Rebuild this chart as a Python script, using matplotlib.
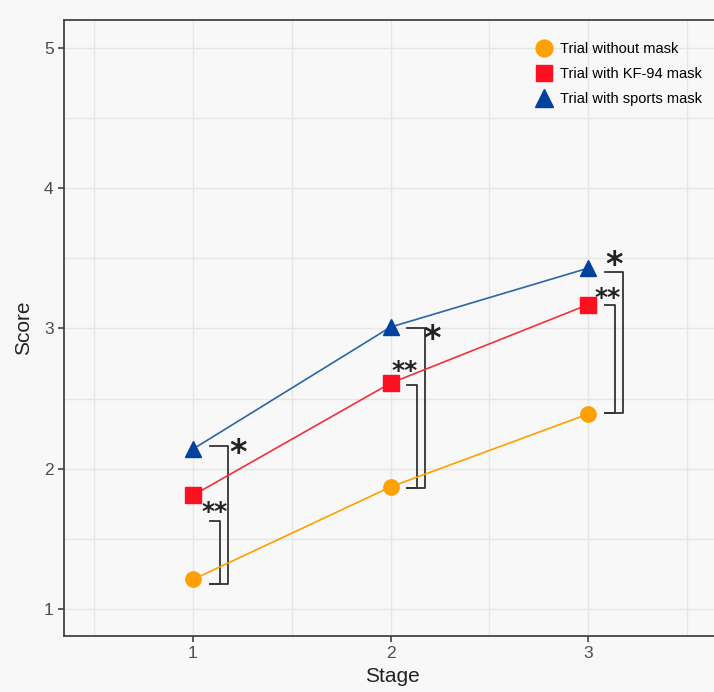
import matplotlib
matplotlib.use("Agg")
import matplotlib.pyplot as plt
from matplotlib.ticker import MultipleLocator

plt.rcParams['font.family'] = ['Liberation Sans', 'DejaVu Sans']

stages = [1, 2, 3]
no_mask = [1.21, 1.87, 2.39]
kf94_mask = [1.81, 2.61, 3.17]
sports_mask = [2.14, 3.01, 3.43]
series_labels = ["Trial without mask", "Trial with KF-94 mask", "Trial with sports mask"]

# significance brackets: (stage, top value, bottom value, label)
outer_brackets = [(1, 2.16, 1.18, "*"), (2, 3.00, 1.86, "*"), (3, 3.40, 2.40, "*")]
inner_brackets = [(1, 1.63, 1.18, "**"), (2, 2.60, 1.86, "**"), (3, 3.17, 2.40, "**")]

fig = plt.figure(figsize=(7.14, 6.92), dpi=100, facecolor='#f8f8f8')
ax = fig.add_axes([64/714, 56/692, (720-64)/714, 616/692])
ax.set_facecolor('#f8f8f8')

ax.set_xlim(0.347, 3.668)
ax.set_ylim(0.807, 5.2)
ax.xaxis.set_major_locator(MultipleLocator(1))
ax.xaxis.set_minor_locator(MultipleLocator(0.5))
ax.yaxis.set_major_locator(MultipleLocator(1))
ax.yaxis.set_minor_locator(MultipleLocator(0.5))
ax.grid(which='both', color='#e6e6e6', linewidth=1.0)
ax.set_axisbelow(True)

c_or, c_red, c_blue = '#ff9f00', '#ff0f1f', '#00429d'
ax.plot(stages, no_mask, color=c_or, lw=1.2, marker='o', ms=11, mec=c_or, label=series_labels[0], zorder=3)
ax.plot(stages, kf94_mask, color='#f0303a', lw=1.2, marker='s', ms=11, mfc=c_red, mec=c_red, label=series_labels[1], zorder=3)
ax.plot(stages, sports_mask, color='#2a65a8', lw=1.2, marker='^', ms=12, mfc=c_blue, mec=c_blue, label=series_labels[2], zorder=3)

bc = '#333333'
star_off_outer = {1: (0.23, -0.05), 2: (0.21, -0.08), 3: (0.13, 0.05)}
star_off_inner = {1: (0.11, 0.06), 2: (0.07, 0.10), 3: (0.10, 0.05)}
for (s, top, bot, lab) in outer_brackets:
    x0, x1 = s + 0.085, s + 0.175
    ax.plot([x0, x1, x1, x0], [top, top, bot, bot], color=bc, lw=1.3, zorder=2)
    dx, dy = star_off_outer[s]
    ax.text(s + dx, top + dy, lab, fontsize=24, ha='center', va='center', color='#222222',
            family='DejaVu Sans', fontweight='bold')
for (s, top, bot, lab) in inner_brackets:
    x0, x1 = s + 0.085, s + 0.135
    ax.plot([x0, x1, x1, x0], [top, top, bot, bot], color=bc, lw=1.3, zorder=2)
    dx, dy = star_off_inner[s]
    ax.text(s + dx, top + dy, lab, fontsize=18, ha='center', va='center', color='#222222',
            family='DejaVu Sans', fontweight='bold')

for sp in ax.spines.values():
    sp.set_color('#444444')
    sp.set_linewidth(1.3)
ax.tick_params(which='major', length=4, color='#444444', labelsize=12.5, labelcolor='#4d4d4d', width=1.2)
ax.tick_params(which='minor', length=0)
ax.set_xlabel("Stage", fontsize=15, color='#222222', labelpad=4)
ax.set_ylabel("Score", fontsize=15, color='#222222', labelpad=8)

leg = ax.legend(loc='upper left', bbox_to_anchor=(0.70, 0.985), frameon=False, fontsize=10.5,
                handlelength=1.0, handletextpad=0.6, labelspacing=0.75, markerscale=1.1)
for line in leg.get_lines():
    line.set_linestyle('none')

fig.savefig("out.png", dpi=100, facecolor=fig.get_facecolor())
